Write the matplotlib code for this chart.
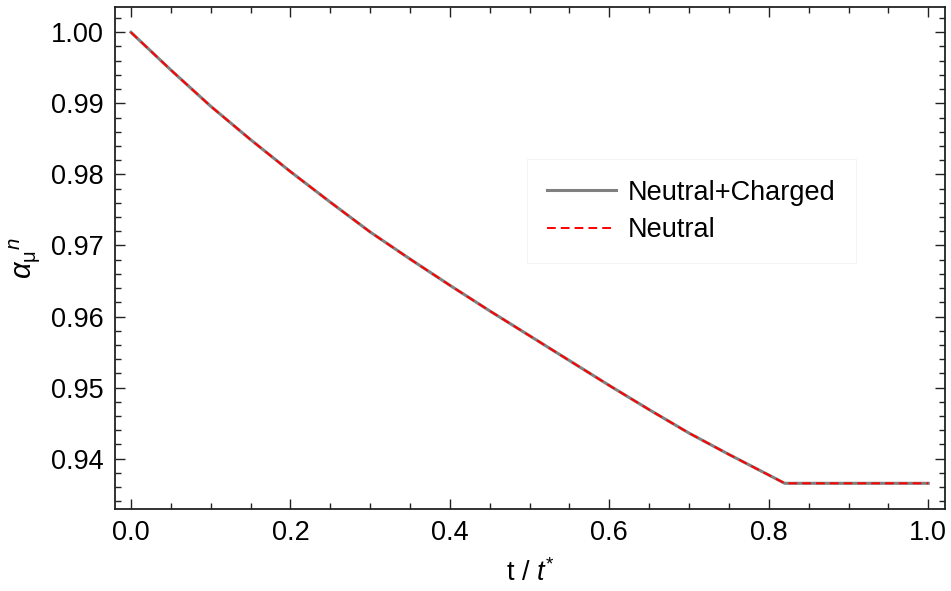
import numpy as np
import matplotlib
matplotlib.use('Agg')
import matplotlib.pyplot as plt
from matplotlib.ticker import MultipleLocator

plt.rcParams['font.family'] = ['Liberation Sans', 'DejaVu Sans']
plt.rcParams['mathtext.fontset'] = 'custom'
plt.rcParams['mathtext.rm'] = 'Liberation Sans'
plt.rcParams['mathtext.it'] = 'Liberation Sans:italic'

# t / t* and the muon fraction for both cases
t = [0.0, 0.05, 0.10, 0.15, 0.20, 0.25, 0.30, 0.35, 0.40, 0.45, 0.50,
     0.55, 0.60, 0.65, 0.70, 0.75, 0.80, 0.82, 1.0]
alpha_nc = [1.0000, 0.9947, 0.9896, 0.9849, 0.9804, 0.9761, 0.9719, 0.9681,
            0.9644, 0.9608, 0.9573, 0.9538, 0.9503, 0.9469, 0.9436, 0.9406,
            0.9377, 0.93654, 0.93654]
alpha_n = [1.0000, 0.9947, 0.9896, 0.9849, 0.9804, 0.9761, 0.9719, 0.9681,
           0.9644, 0.9608, 0.9573, 0.9538, 0.9503, 0.9469, 0.9436, 0.9406,
           0.9377, 0.93654, 0.93654]

fs = 19.5

fig = plt.figure(figsize=(9.51, 5.91), dpi=100)
ax = fig.add_axes([0.1209, 0.1393, 0.8728, 0.8489])

ax.plot(t, alpha_nc, color='#808080', lw=2.2, label='Neutral+Charged')
ax.plot(t, alpha_n, color='#ff0000', lw=1.4, ls=(0, (4.5, 2.6)), label='Neutral')

ax.set_xlim(-0.02, 1.021)
ax.set_ylim(0.93297, 1.00356)
ax.xaxis.set_major_locator(MultipleLocator(0.2))
ax.xaxis.set_minor_locator(MultipleLocator(0.05))
ax.yaxis.set_major_locator(MultipleLocator(0.01))
ax.yaxis.set_minor_locator(MultipleLocator(0.002))
ax.xaxis.set_major_formatter(lambda v, p: f'{v:.1f}')
ax.yaxis.set_major_formatter(lambda v, p: f'{v:.2f}')

ax.tick_params(which='both', direction='in', top=True, right=True,
               labelsize=fs, width=1.0, color='#222222')
ax.tick_params(which='major', length=7, pad=8)
ax.tick_params(which='minor', length=4)
for s in ax.spines.values():
    s.set_linewidth(1.3)
    s.set_color('#222222')

ax.set_xlabel(r't / $t^{*}$', fontsize=fs, labelpad=10)
ax.set_ylabel(r'$\alpha_{\mathrm{\mu}}{}^{n}$', fontsize=21, labelpad=6)

leg = ax.legend(loc='upper left', bbox_to_anchor=(0.496, 0.696),
                borderaxespad=0, fontsize=fs, handlelength=2.55,
                handletextpad=0.45, labelspacing=0.42, borderpad=0.75,
                fancybox=False, framealpha=1.0, edgecolor='#f4f4f4')
leg.get_frame().set_linewidth(0.8)

fig.savefig('out.png', dpi=100)
